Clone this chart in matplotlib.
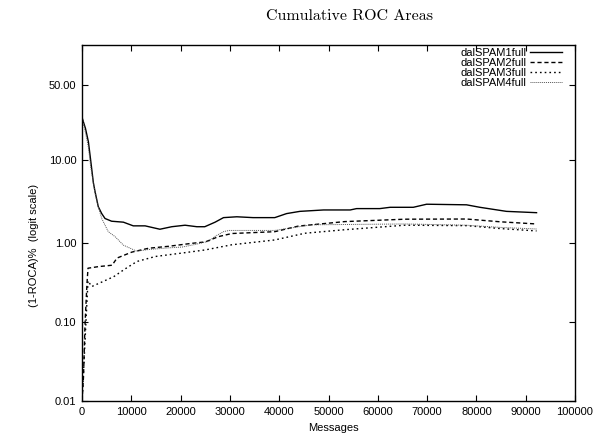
import matplotlib
matplotlib.use("Agg")
import matplotlib.pyplot as plt
from matplotlib.ticker import FixedLocator, FixedFormatter, NullLocator

# ---- data (values in percent) ----
x1 = [0, 700, 1300, 1760, 2300, 2640, 3300, 4000, 4670, 6000, 8400, 10400, 12800,
      15800, 18200, 20900, 23300, 24900, 27000, 28700, 31400, 34700, 39100, 41500,
      44200, 49000, 54400, 55700, 60400, 62500, 67200, 69900, 78000, 80700, 86100, 92200]
v1 = [28, 22, 16, 10, 5.5, 4.3, 2.8, 2.3, 2.0, 1.85, 1.8, 1.62, 1.62,
      1.47, 1.58, 1.65, 1.58, 1.58, 1.8, 2.05, 2.1, 2.05, 2.05, 2.3,
      2.45, 2.55, 2.55, 2.65, 2.65, 2.75, 2.75, 3.0, 2.95, 2.75, 2.45, 2.36]

x2 = [0, 300, 600, 1000, 1220, 3380, 6100, 7100, 10100, 13500, 17600, 22300, 25000,
      27700, 30400, 39100, 43900, 53300, 65500, 78000, 84800, 92200]
v2 = [0.01, 0.02, 0.09, 0.3, 0.477, 0.5, 0.52, 0.64, 0.76, 0.85, 0.9, 0.98, 1.02,
      1.19, 1.3, 1.37, 1.61, 1.83, 1.96, 1.97, 1.82, 1.71]

x3 = [0, 400, 800, 1220, 1970, 4060, 6430, 8800, 11150, 14900, 20300, 25000, 30400,
      39100, 45200, 53300, 65500, 78000, 84800, 92200]
v3 = [0.01, 0.03, 0.1, 0.33, 0.28, 0.32, 0.373, 0.47, 0.58, 0.67, 0.74, 0.81, 0.94,
      1.08, 1.31, 1.45, 1.65, 1.63, 1.5, 1.4]

x4 = [0, 700, 1300, 1760, 2640, 3300, 4000, 5330, 6700, 8400, 11100, 13500, 17600,
      20300, 23000, 25700, 27000, 28700, 29800, 39100, 46600, 65500, 78000, 84800, 92200]
v4 = [28, 20, 14, 8.5, 4.1, 2.8, 2.0, 1.37, 1.19, 0.93, 0.78, 0.82, 0.86,
      0.88, 0.95, 1.04, 1.2, 1.37, 1.42, 1.42, 1.67, 1.71, 1.65, 1.55, 1.48]

labels = ["dalSPAM1full", "dalSPAM2full", "dalSPAM3full", "dalSPAM4full"]
ytick_vals = [0.01, 0.10, 1.00, 10.00, 50.00]
ytick_labels = ["0.01", "0.10", "1.00", "10.00", "50.00"]
xticks = list(range(0, 100001, 10000))

sans = ["Liberation Sans", "DejaVu Sans"]
plt.rcParams['font.family'] = sans

fig = plt.figure(figsize=(6.07, 4.37), dpi=100)
ax = fig.add_axes([82/607, 1-401/437, (575-82)/607, (401-45)/437])

ax.plot(x1, [v/100 for v in v1], color='black', lw=1.0, ls='-', label=labels[0])
ax.plot(x2, [v/100 for v in v2], color='black', lw=1.0, ls=(0, (3, 2)), label=labels[1])
ax.plot(x3, [v/100 for v in v3], color='black', lw=1.0, ls=(0, (1.2, 2.2)), label=labels[2])
ax.plot(x4, [v/100 for v in v4], color='#555555', lw=0.7, ls=(0, (1, 1)), label=labels[3])

ax.set_yscale('logit')
ax.set_ylim(0.0001, 0.762)
ax.set_xlim(0, 100000)
ax.yaxis.set_major_locator(FixedLocator([v/100 for v in ytick_vals]))
ax.yaxis.set_major_formatter(FixedFormatter(ytick_labels))
ax.yaxis.set_minor_locator(NullLocator())
ax.xaxis.set_minor_locator(NullLocator())
ax.set_xticks(xticks)
ax.set_xticklabels([str(t) for t in xticks])

ax.tick_params(axis='both', which='major', direction='in', length=4, width=0.8,
               top=True, right=True, labelsize=8, pad=4)
for s in ax.spines.values():
    s.set_linewidth(1.0)

ax.set_xlabel("Messages", fontsize=8)
ax.xaxis.set_label_coords((333-82)/493, -(423-401)/356)
ax.set_ylabel("(1-ROCA)%  (logit scale)", fontsize=8)
ax.yaxis.set_label_coords((39-82)/493, (401-245)/356)

fig.text(350/607, 1-16/437, "Cumulative ROC Areas", family="cmr10", fontsize=11.5,
         ha='center', va='center')

leg = ax.legend(loc='upper right', bbox_to_anchor=((562-82)/493, (401-48)/356),
                frameon=False, fontsize=8, markerfirst=False,
                handlelength=2.9, handletextpad=0.3, labelspacing=0.0,
                borderaxespad=0.0, borderpad=0.0)

fig.savefig("out.png", dpi=100)
